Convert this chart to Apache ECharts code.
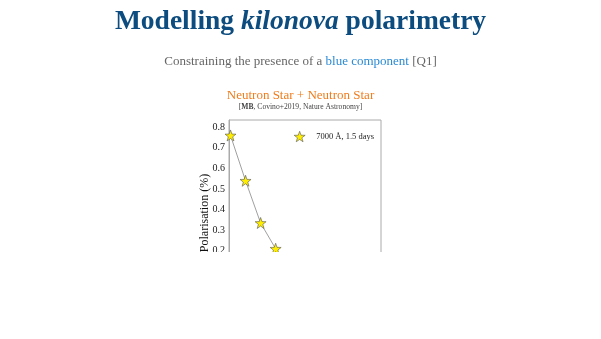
<!DOCTYPE html>
<html>
<head>
<meta charset="utf-8">
<script src="https://cdn.jsdelivr.net/npm/echarts@6/dist/echarts.min.js"></script>
<style>
html,body{margin:0;padding:0;background:#fff;}
#chart{width:601px;height:339px;clip-path:inset(0 0 87px 0);}
</style>
</head>
<body>
<div id="chart"></div>
<script>
// ---- data ----
const seriesName = '7000 Å, 1.5 days';
const xValues = [1, 2, 3, 4];
const polarisation = [0.76, 0.54, 0.335, 0.21];
const yTicks = [0.1, 0.2, 0.3, 0.4, 0.5, 0.6, 0.7, 0.8];

const starPath = 'path://M0,-10 L2.35,-3.24 L9.51,-3.09 L3.8,1.24 L5.88,8.09 L0,4 L-5.88,8.09 L-3.8,1.24 L-9.51,-3.09 L-2.35,-3.24 Z';
const serif = '"Liberation Serif", "DejaVu Serif", serif';
const starStyle = {color: '#ffee00', borderColor: '#555555', borderWidth: 0.6};

const chart = echarts.init(document.getElementById('chart'), null, {renderer: 'canvas'});
chart.setOption({
  backgroundColor: '#ffffff',
  animation: false,
  title: [
    {
      text: '{b|Modelling }{i|kilonova}{b| polarimetry}',
      left: 'center', top: 3,
      textStyle: {
        rich: {
          b: {fontFamily: serif, fontWeight: 'bold', fontSize: 27.5, color: '#0d4c7e'},
          i: {fontFamily: serif, fontWeight: 'bold', fontStyle: 'italic', fontSize: 27.5, color: '#0d4c7e'}
        }
      }
    },
    {
      text: '{g|Constraining the presence of a }{bl|blue component}{g| [Q1]}',
      left: 'center', top: 50,
      textStyle: {
        fontWeight: 'normal',
        rich: {
          g: {fontFamily: serif, fontWeight: 'normal', fontSize: 13, color: '#666666'},
          bl: {fontFamily: serif, fontWeight: 'normal', fontSize: 13, color: '#2a8ad4'}
        }
      }
    },
    {
      text: 'Neutron Star + Neutron Star',
      left: 'center', top: 84,
      textStyle: {fontFamily: serif, fontSize: 13, fontWeight: 'normal', color: '#f07c1c'}
    },
    {
      text: '{n|[}{b|MB}{n|, Covino+2019, Nature Astronomy]}',
      left: 'center', top: 98,
      textStyle: {
        fontWeight: 'normal',
        rich: {
          n: {fontFamily: serif, fontWeight: 'normal', fontSize: 7.6, color: '#444444'},
          b: {fontFamily: serif, fontSize: 7.6, fontWeight: 'bold', color: '#444444'}
        }
      }
    }
  ],
  legend: {
    data: [{name: seriesName, icon: starPath, itemStyle: starStyle}],
    right: 222, top: 126,
    itemWidth: 11, itemHeight: 11, itemGap: 10,
    textStyle: {fontFamily: serif, fontSize: 8.5, color: '#222', padding: [0, 0, 0, 6]}
  },
  grid: {
    left: 229, top: 120, width: 152, bottom: 47,
    show: true, borderColor: '#aaaaaa', borderWidth: 1
  },
  xAxis: {
    type: 'value', min: 0.9, max: 11,
    axisLine: {show: true, lineStyle: {color: '#aaaaaa'}},
    axisTick: {show: false},
    axisLabel: {show: false},
    splitLine: {show: false}
  },
  yAxis: {
    type: 'value', min: 0, max: 0.835, interval: 0.1,
    name: 'Polarisation (%)',
    nameLocation: 'middle', nameGap: 18, nameMoveOverlap: false,
    nameTextStyle: {fontFamily: serif, fontSize: 12, color: '#111', padding: [0, 14, 0, 0]},
    axisLine: {show: true, lineStyle: {color: '#aaaaaa'}},
    axisTick: {show: false},
    axisLabel: {
      fontFamily: serif, fontSize: 10, color: '#222', margin: 4,
      showMaxLabel: false,
      formatter: function (v) {
        const t = yTicks.find(k => Math.abs(k - v) < 1e-6);
        return t === undefined ? '' : t.toFixed(1);
      }
    },
    splitLine: {show: false}
  },
  series: [{
    name: seriesName,
    type: 'line',
    data: xValues.map((x, i) => [x, polarisation[i]]),
    symbol: starPath,
    symbolSize: 11,
    lineStyle: {color: '#888888', width: 0.8},
    itemStyle: starStyle,
    z: 3
  }]
});
</script>
</body>
</html>
